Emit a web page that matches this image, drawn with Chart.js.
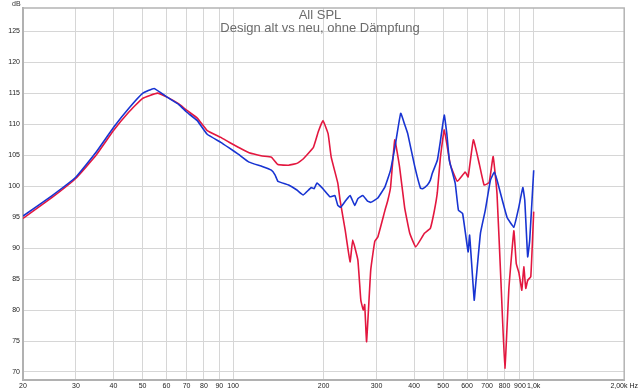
<!DOCTYPE html>
<html>
<head>
<meta charset="utf-8">
<script src="https://cdn.jsdelivr.net/npm/chart.js@4/dist/chart.umd.min.js"></script>
<style>
  html, body { margin: 0; padding: 0; background: #fff; }
  #wrap { width: 640px; height: 392px; position: relative; }
</style>
</head>
<body>
<div id="wrap"><canvas id="spl"></canvas></div>
<script>
// Frequenzgang (Hz / dB)
const titel = ['All SPL', 'Design alt vs neu, ohne Dämpfung'];

const freqBlau = [20, 25, 30, 35, 40, 45, 50, 54.6, 60.3, 66, 70, 76, 82, 91, 97, 104, 113, 125, 134, 138, 141,
  153, 163, 171, 182, 186, 190, 199, 210, 218, 223, 228, 237, 245, 254, 260, 270, 280, 287, 303, 320, 334, 347,
  361, 372, 381, 402, 420, 427, 443, 453, 460, 478, 490, 504, 514, 524, 548, 562, 580, 605, 612, 634, 640, 665,
  690, 718, 740, 755, 815, 859, 893, 920, 934, 955, 970, 1000];
const splBlau = [95.2, 98.5, 101.5, 105.5, 109.5, 112.6, 115.0, 115.8, 114.4, 113.2, 112.0, 110.6, 108.4, 107.1,
  106.2, 105.2, 103.9, 103.2, 102.6, 101.8, 100.8, 100.2, 99.4, 98.6, 99.8, 99.6, 100.5, 99.6, 98.3, 98.5, 96.9,
  96.6, 97.7, 98.5, 96.9, 98.0, 98.5, 97.6, 97.4, 98.1, 99.9, 102.6, 106.9, 111.8, 110.0, 108.5, 103.2, 99.7,
  99.6, 100.2, 101.0, 102.1, 104.2, 107.5, 111.5, 108.5, 104.2, 100.5, 96.1, 95.6, 89.4, 92.1, 81.6, 83.7, 92.4,
  96.1, 101.0, 102.3, 101.0, 95.0, 93.4, 96.7, 99.8, 97.7, 88.6, 91.3, 102.6];

const freqRot = [20, 25, 30, 35, 40, 45, 50, 56, 60.3, 66, 70, 76, 82, 91, 97, 104, 113, 125, 134, 141, 153, 163,
  171, 185, 192, 199, 207, 212, 223, 227, 236, 245, 250, 260, 266, 271, 274, 278, 287, 296, 303, 320, 327, 334,
  345, 358, 372, 387, 405, 433, 453, 467, 478, 489, 504, 528, 557, 592, 605, 630, 660, 684, 711, 733, 755, 779,
  802, 827, 859, 875, 893, 913, 927, 941, 955, 978, 1000];
const splRot = [94.8, 98.2, 101.3, 105.0, 109.0, 112.0, 114.2, 115.05, 114.4, 113.3, 112.3, 111.0, 109.0, 107.9,
  107.1, 106.3, 105.4, 104.9, 104.7, 103.5, 103.4, 103.7, 104.4, 106.3, 108.8, 110.6, 108.5, 104.7, 100.5, 97.7,
  92.9, 87.8, 91.3, 88.1, 81.6, 80.0, 80.9, 74.9, 86.5, 91.1, 91.8, 96.1, 97.7, 99.8, 107.5, 103.1, 96.6, 92.4,
  90.2, 92.4, 93.2, 96.0, 99.0, 104.5, 109.1, 103.5, 100.8, 102.3, 101.5, 107.5, 103.5, 100.2, 100.6, 104.8,
  98.8, 84.0, 70.6, 83.5, 92.8, 87.5, 86.0, 83.2, 87.0, 83.5, 84.8, 85.4, 95.9];

const xTicks = [20, 30, 40, 50, 60, 70, 80, 90, 100, 200, 300, 400, 500, 600, 700, 800, 900, 1000, 2000];
const xLabels = ['20', '30', '40', '50', '60', '70', '80', '90', '100', '200', '300', '400', '500', '600', '700',
  '800', '900', '1,0k', '2,00k Hz'];
const yTicks = [70, 75, 80, 85, 90, 95, 100, 105, 110, 115, 120, 125];

const punkte = (f, v) => f.map((x, i) => ({ x, y: v[i] }));

// Rahmen, Titel und "dB" zeichnen
const deko = {
  id: 'deko',
  beforeDatasetsDraw(chart) {
    const { ctx, chartArea: a } = chart;
    ctx.save();
    ctx.strokeStyle = '#b4b4b4';
    ctx.lineWidth = 1.5;
    ctx.strokeRect(a.left, a.top, a.right - a.left, a.bottom - a.top);
    ctx.fillStyle = '#6c6c6c';
    ctx.font = '13px "Liberation Sans", Arial, sans-serif';
    ctx.textAlign = 'center';
    ctx.textBaseline = 'middle';
    ctx.fillText(titel[0], chart.width / 2, 15);
    ctx.fillText(titel[1], chart.width / 2, 28);
    ctx.fillStyle = '#333';
    ctx.font = '7px "Liberation Sans", Arial, sans-serif';
    ctx.textAlign = 'left';
    ctx.fillText('dB', 12, 4);
    ctx.restore();
  },
};

new Chart(document.getElementById('spl'), {
  type: 'line',
  data: {
    datasets: [
      { label: 'neu', data: punkte(freqBlau, splBlau), borderColor: '#1834d2', borderWidth: 1.6, pointRadius: 0, tension: 0.1 },
      { label: 'alt', data: punkte(freqRot, splRot), borderColor: '#e3173f', borderWidth: 1.6, pointRadius: 0, tension: 0.1 },
    ],
  },
  options: {
    responsive: true,
    maintainAspectRatio: false,
    animation: false,
    layout: { padding: { top: 8, right: 11, left: 0, bottom: 0 } },
    plugins: { legend: { display: false }, tooltip: { enabled: false } },
    scales: {
      x: {
        type: 'logarithmic',
        min: 20,
        max: 2000,
        afterBuildTicks: (s) => { s.ticks = xTicks.map((v) => ({ value: v })); },
        afterFit: (s) => { s.height = 12; },
        ticks: {
          autoSkip: false,
          maxRotation: 0,
          padding: 2,
          color: '#222',
          font: { size: 7, family: '"Liberation Sans", Arial, sans-serif' },
          callback: (v, i) => xLabels[i],
        },
        grid: { color: '#d6d6d6', lineWidth: 1, drawTicks: false },
        border: { color: '#a8a8a8', width: 2 },
      },
      y: {
        min: 68.7,
        max: 128.8,
        afterBuildTicks: (s) => { s.ticks = yTicks.map((v) => ({ value: v })); },
        afterFit: (s) => { s.width = 23; },
        ticks: {
          padding: 3,
          color: '#222',
          font: { size: 7, family: '"Liberation Sans", Arial, sans-serif' },
        },
        grid: { color: '#d6d6d6', lineWidth: 1, drawTicks: false },
        border: { color: '#a8a8a8', width: 2 },
      },
    },
  },
  plugins: [deko],
});
</script>
</body>
</html>
